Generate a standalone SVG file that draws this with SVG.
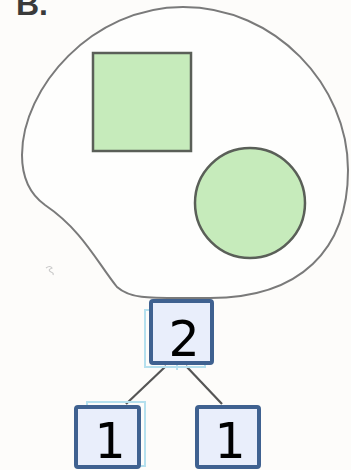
<svg xmlns="http://www.w3.org/2000/svg" width="351" height="470" viewBox="0 0 351 470">
<style>
.box{fill:#e9eefb;stroke:#3f6190;stroke-width:4}
.ghost{fill:none;stroke:#b5e0ee;stroke-width:2}
.num{font-family:"DejaVu Sans",sans-serif;font-size:49px;fill:#000;text-anchor:middle}
.conn{stroke:#555;stroke-width:2.2;fill:none}
.organelle{fill:#c6ebbb;stroke:#5a5f58;stroke-width:2.5}
</style>
<rect width="351" height="470" fill="#fdfcfa"/>
<text x="16" y="15" font-family="Liberation Sans,Arial,sans-serif" font-weight="bold" font-size="32" fill="#3a3a3a">B.</text>
<g id="cell">
<path d="M183,7 C275,7 348,85 348,170 C348,250 300,298 210,298 C150,298 132,300 117,287 C97,262 82,230 45,205 C27,192 22,172 22,155 C22,88 92,7 183,7 Z" fill="#fefefd" stroke="#7a7a7a" stroke-width="2"/>
<path d="M46,268 q4,-3 6,0 q-5,2 -1,4 q3,1 2,3" fill="none" stroke="#c9c9c9" stroke-width="1.2"/>
</g>
<g id="square"><rect class="organelle" x="93" y="53" width="98" height="98"/></g>
<g id="circle"><circle class="organelle" cx="250" cy="203" r="55"/></g>
<g id="connectors">
<line class="conn" x1="166" y1="366" x2="126" y2="404"/>
<line class="conn" x1="186" y1="366" x2="222" y2="404"/>
<line x1="177" y1="364" x2="177" y2="370" stroke="#b5e0ee" stroke-width="2"/>
</g>
<g id="node-2">
<rect class="ghost" x="145" y="310" width="60" height="57"/>
<rect class="box" x="151" y="301" width="61" height="62" rx="2"/>
<text class="num" x="184" y="356">2</text>
</g>
<g id="node-1a">
<rect class="ghost" x="87" y="402" width="58" height="64"/>
<rect class="box" x="76" y="407" width="63" height="60" rx="2"/>
<text class="num" x="110" y="458">1</text>
</g>
<g id="node-1b">
<rect class="box" x="197" y="407" width="62" height="60" rx="2"/>
<text class="num" x="230" y="458">1</text>
</g>
</svg>
